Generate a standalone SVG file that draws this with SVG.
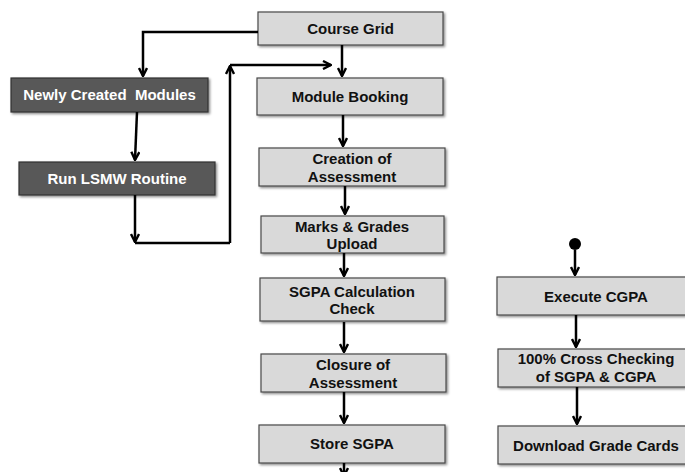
<svg xmlns="http://www.w3.org/2000/svg" width="685" height="472" viewBox="0 0 685 472">
<defs>
<marker id="ah" viewBox="0 0 10 10" refX="9" refY="5" markerWidth="10" markerHeight="10" markerUnits="userSpaceOnUse" orient="auto">
<path d="M1,1 L9,5 L1,9" fill="none" stroke="#000" stroke-width="2.4"/>
</marker>
<filter id="sh" x="-5%" y="-10%" width="115%" height="130%">
<feDropShadow dx="1.5" dy="1.5" stdDeviation="1" flood-color="#000" flood-opacity="0.45"/>
</filter>
</defs>
<style>
.lb{fill:#d9d9d9;stroke:#4a4a4a;stroke-width:1.2;filter:url(#sh)}
.db{fill:#595959;stroke:#333;stroke-width:1.2;filter:url(#sh)}
text{font-family:"Liberation Sans",Arial,sans-serif;font-weight:bold;font-size:15px;text-anchor:middle;white-space:pre}
.dt{fill:#fff}
.lt{fill:#111}
.c{fill:none;stroke:#000;stroke-width:2.5;marker-end:url(#ah)}
.cn{fill:none;stroke:#000;stroke-width:2.5}
</style>
<rect width="685" height="472" fill="#fff"/>
<g id="course-grid"><rect class="lb" x="258" y="12" width="185" height="33"/><text class="lt" x="350.5" y="34">Course Grid</text></g>
<g id="module-booking"><rect class="lb" x="257" y="78" width="186" height="37"/><text class="lt" x="350" y="102">Module Booking</text></g>
<g id="creation"><rect class="lb" x="259" y="148" width="186" height="38"/><text class="lt" x="352" y="164">Creation of</text><text class="lt" x="352" y="182">Assessment</text></g>
<g id="marks"><rect class="lb" x="261" y="216" width="183" height="37"/><text class="lt" x="352" y="232">Marks &amp; Grades</text><text class="lt" x="352" y="249">Upload</text></g>
<g id="sgpa-calc"><rect class="lb" x="260" y="278" width="185" height="43"/><text class="lt" x="352" y="297">SGPA Calculation</text><text class="lt" x="352" y="314">Check</text></g>
<g id="closure"><rect class="lb" x="261" y="354" width="185" height="38"/><text class="lt" x="353" y="370">Closure of</text><text class="lt" x="353" y="388">Assessment</text></g>
<g id="store-sgpa"><rect class="lb" x="259" y="425" width="186" height="38"/><text class="lt" x="352" y="449">Store SGPA</text></g>
<g id="newly"><rect class="db" x="11" y="78" width="197" height="34"/><text class="dt" x="109.5" y="100">Newly Created  Modules</text></g>
<g id="lsmw"><rect class="db" x="19" y="162" width="196" height="33"/><text class="dt" x="117" y="184">Run LSMW Routine</text></g>
<g id="start"><circle cx="575" cy="244" r="6" fill="#000"/></g>
<g id="execute-cgpa"><rect class="lb" x="497" y="277" width="197" height="38"/><text class="lt" x="596" y="302">Execute CGPA</text></g>
<g id="cross-check"><rect class="lb" x="498" y="349" width="196" height="38"/><text class="lt" x="596" y="364">100% Cross Checking</text><text class="lt" x="596" y="382">of SGPA &amp; CGPA</text></g>
<g id="download"><rect class="lb" x="498" y="426" width="196" height="38"/><text class="lt" x="596" y="451">Download Grade Cards</text></g>
<g id="connectors">
<path class="c" d="M258,32 H143 V76"/>
<path class="c" d="M342,45 V76"/>
<path class="c" d="M137,112 L135,160"/>
<path class="c" d="M135,195 V242"/>
<path class="cn" d="M135,243 H230"/>
<path class="c" d="M230,243 V66"/>
<path class="c" d="M230,65 H331"/>
<path class="c" d="M343,115 V146"/>
<path class="c" d="M345,186 V214"/>
<path class="c" d="M344,253 V276"/>
<path class="c" d="M344,322 V352"/>
<path class="c" d="M344,392 V423"/>
<path class="c" d="M344,463 V476"/>
<path class="c" d="M575,250 V275"/>
<path class="c" d="M576,315 V347"/>
<path class="c" d="M577,387 V424"/>
</g>
</svg>
